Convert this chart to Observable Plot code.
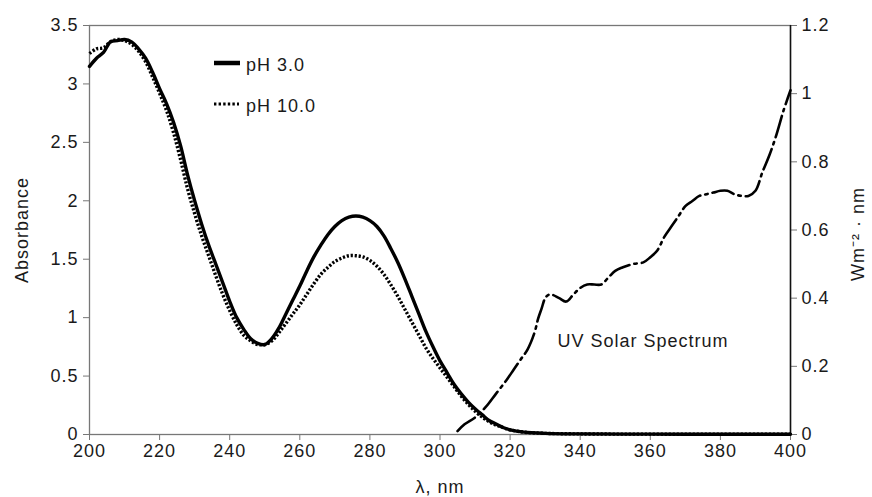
<!DOCTYPE html>
<html>
<head>
<meta charset="utf-8">
<script src="https://cdn.jsdelivr.net/npm/d3@7"></script>
<script src="https://cdn.jsdelivr.net/npm/@observablehq/plot@0.6"></script>
<style>
  html, body { margin: 0; padding: 0; background: #fff; }
  #chart { position: relative; width: 872px; height: 497px; }
  #chart svg text { letter-spacing: 1px; }
</style>
</head>
<body>
<div id="chart"></div>
<script>
// ---- Data ----
const lambdaAbs = [200,202,204,206,208,210,212,214,216,218,220,222,224,226,228,230,232,234,236,238,240,242,244,246,248,250,252,254,256,258,260,262,264,266,268,270,272,274,276,278,280,282,284,286,288,290,292,294,296,298,300,302,304,306,308,310,312,314,316,318,320,324,330,340,360,380,400];
const absPH3  = [3.15,3.22,3.27,3.36,3.37,3.38,3.36,3.30,3.22,3.10,2.96,2.83,2.67,2.47,2.22,2.00,1.80,1.62,1.46,1.30,1.14,1.00,0.90,0.82,0.78,0.77,0.82,0.91,1.03,1.15,1.27,1.40,1.52,1.62,1.71,1.78,1.83,1.86,1.87,1.86,1.83,1.78,1.70,1.59,1.47,1.33,1.18,1.03,0.88,0.75,0.63,0.53,0.43,0.35,0.28,0.22,0.17,0.12,0.09,0.06,0.04,0.02,0.01,0.005,0.003,0.002,0.002];
const absPH10 = [3.26,3.30,3.31,3.36,3.38,3.37,3.34,3.28,3.19,3.06,2.92,2.77,2.58,2.35,2.10,1.89,1.70,1.53,1.36,1.20,1.06,0.94,0.85,0.80,0.77,0.77,0.80,0.87,0.95,1.03,1.11,1.20,1.29,1.37,1.43,1.48,1.51,1.53,1.53,1.52,1.49,1.44,1.37,1.28,1.18,1.07,0.96,0.85,0.74,0.65,0.57,0.49,0.41,0.33,0.26,0.20,0.15,0.11,0.08,0.06,0.04,0.02,0.01,0.005,0.003,0.002,0.002];

const lambdaSolar = [305,307,310,313,316,319,321,323,325,327,328,329,330,331,332,334,336,338,340,342,344,346,348,350,352,355,358,360,362,364,366,368,370,372,374,376,378,380,382,384,386,388,390,392,394,396,398,400];
const solar       = [0.01,0.03,0.05,0.08,0.12,0.16,0.19,0.22,0.25,0.30,0.34,0.37,0.40,0.41,0.41,0.40,0.39,0.41,0.43,0.44,0.44,0.44,0.46,0.48,0.49,0.50,0.505,0.52,0.54,0.58,0.61,0.64,0.67,0.685,0.70,0.705,0.71,0.715,0.715,0.705,0.70,0.70,0.715,0.77,0.82,0.88,0.95,1.01];

const xTicks = [200,220,240,260,280,300,320,340,360,380,400];
const leftTicks = [0,0.5,1,1.5,2,2.5,3,3.5];
const rightTicks = [0,0.2,0.4,0.6,0.8,1,1.2];
const seriesNames = ["pH 3.0", "pH 10.0"];
const xLabel = "λ, nm";
const yLabel = "Absorbance";
const y2Label = "Wm⁻² · nm";
const annotation = [{x: 333.5, y: 0.80, text: "UV Solar Spectrum"}];

// ---- Build tables ----
const xDomain = [200, 400];
const yDomain = [0, 3.5];
const y2Max = 1.2;
const k = yDomain[1] / y2Max; // right axis -> left axis units

const ph3 = lambdaAbs.map((l, i) => ({l, a: absPH3[i]}));
const ph10 = lambdaAbs.map((l, i) => ({l, a: absPH10[i]}));
const sun = lambdaSolar.map((l, i) => ({l, a: solar[i] * k}));

const font = "'Liberation Sans', Arial, Helvetica, sans-serif";
const fs = 18;
const ink = "#1a1a1a";

const chart = Plot.plot({
  width: 872,
  height: 497,
  marginLeft: 89,
  marginRight: 82,
  marginTop: 25,
  marginBottom: 63,
  x: {domain: xDomain},
  y: {domain: yDomain},
  style: {fontFamily: font, fontSize: fs + "px", color: ink, background: "#fff", overflow: "visible"},
  marks: [
    Plot.frame({stroke: "#777", strokeWidth: 1.3}),
    Plot.axisX(xTicks, {tickSize: 6, tickPadding: 4, stroke: "#777", label: null, tickFormat: d => String(d)}),
    Plot.axisY(leftTicks, {tickSize: 6, tickPadding: 5, stroke: "#777", label: null, tickFormat: d => String(d)}),
    Plot.axisY(rightTicks.map(v => v * k), {anchor: "right", tickSize: 6, tickPadding: 5, stroke: "#777", label: null,
      tickFormat: d => String(+(d / k).toFixed(1))}),
    Plot.ruleX([xDomain[1]], {stroke: "#111", strokeWidth: 1.5}),
    Plot.line(ph10, {x: "l", y: "a", stroke: "#000", strokeWidth: 3.4, strokeDasharray: "2.2,1.8", strokeLinecap: "butt", curve: "catmull-rom"}),
    Plot.line(ph3, {x: "l", y: "a", stroke: "#000", strokeWidth: 3.4, curve: "catmull-rom"}),
    Plot.line(sun, {x: "l", y: "a", stroke: "#000", strokeWidth: 2.6, strokeDasharray: "22,5,2.5,5", curve: "catmull-rom"}),
    Plot.text(annotation, {x: "x", y: "y", text: "text", textAnchor: "start", fontSize: fs, fill: ink}),
    Plot.text([yLabel], {frameAnchor: "left", textAnchor: "middle", dx: -67, rotate: -90, fontSize: fs, fill: ink}),
    Plot.text([y2Label], {frameAnchor: "right", textAnchor: "middle", dx: 68, dy: 4, rotate: -90, fontSize: fs, fill: ink}),
    Plot.text([xLabel], {frameAnchor: "bottom", dy: 58, fontSize: fs, fill: ink})
  ]
});

document.getElementById("chart").appendChild(chart);

// Legend (inside plot, top-left)
const svg = d3.select(chart);
const leg = svg.append("g").attr("font-family", font).attr("font-size", fs).attr("fill", ink).attr("text-anchor", "start");
const legY = [63, 104];
leg.append("line").attr("x1", 214).attr("x2", 240).attr("y1", legY[0]).attr("y2", legY[0]).attr("stroke", "#000").attr("stroke-width", 4.5);
leg.append("line").attr("x1", 214).attr("x2", 239).attr("y1", legY[1]).attr("y2", legY[1]).attr("stroke", "#000").attr("stroke-width", 2.8).attr("stroke-dasharray", "2.4,2.2");
seriesNames.forEach((s, i) => {
  leg.append("text").attr("x", 246).attr("y", legY[i] + 2).attr("dy", "0.35em").attr("text-anchor", "start").text(s);
});
</script>
</body>
</html>
